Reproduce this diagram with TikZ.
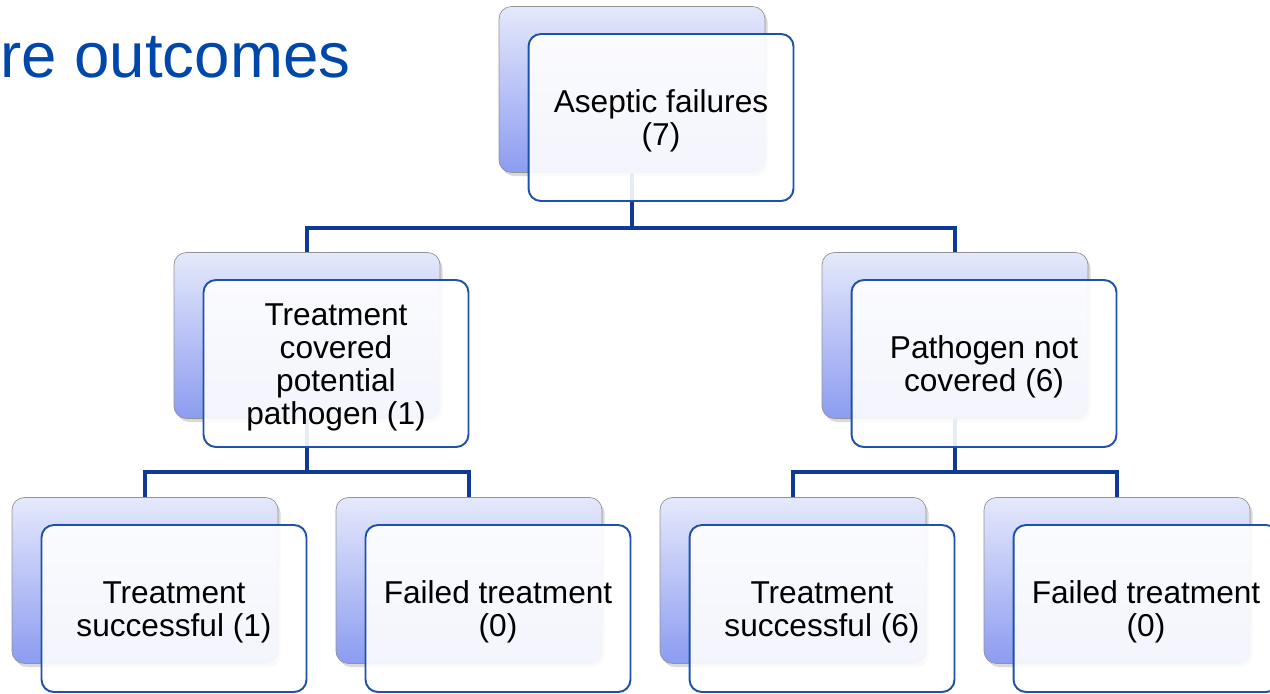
\documentclass[tikz,border=0pt]{standalone}
\usepackage{fontspec}
\setmainfont{Liberation Sans}
\usepackage{xcolor}
\usepackage{tikz}
\usetikzlibrary{calc, positioning, shadows}

\definecolor{titleblue}{RGB}{0,71,171}
\definecolor{edgeblue}{RGB}{30,82,170}
\definecolor{linkblue}{RGB}{14,58,150}
\definecolor{backtop}{RGB}{229,233,251}
\definecolor{backbot}{RGB}{140,156,240}

% extra room above the first line
\newcommand{\topgap}{\rule{0pt}{16.5pt}}

\tikzset{
  backbox/.style={draw=gray!85, rounded corners=7pt, minimum width=5.32cm, minimum height=3.32cm,
    top color=backtop, bottom color=backbot,
    drop shadow={shadow xshift=1.5pt, shadow yshift=-2pt, opacity=0.3}},
  frontbox/.style={draw=edgeblue, line width=1.1pt, rounded corners=7pt, minimum width=5.3cm,
    minimum height=3.34cm, fill=white, fill opacity=0.9, text opacity=1, align=center,
    font=\fontsize{18}{18.7}\selectfont},
  link/.style={draw=linkblue, line width=2.3pt}
}

\begin{document}
\begin{tikzpicture}[x=0.02cm, y=-0.02cm]
    \useasboundingbox (0,0) rectangle (1270,693);

    % Title
    \node[anchor=base west, inner sep=0pt, text=titleblue, font=\fontsize{36.2}{40}\selectfont] (title) at (0,77) {re outcomes};

    % Back boxes
    \node[backbox] (b0) at (632,89.5) {};
    \node[backbox] (b1) at (307,335.5) {};
    \node[backbox] (b2) at (955,335.5) {};
    \node[backbox] (b11) at (145,580.5) {};
    \node[backbox] (b12) at (469,580.5) {};
    \node[backbox] (b21) at (793,580.5) {};
    \node[backbox] (b22) at (1117,580.5) {};

    % Connectors
    \draw[link] (b0.south) -- ++(0,55) -| (b1.north);
    \draw[link] (b0.south) -- ++(0,55) -| (b2.north);
    \draw[link] (b1.south) -- ++(0,53) -| (b11.north);
    \draw[link] (b1.south) -- ++(0,53) -| (b12.north);
    \draw[link] (b2.south) -- ++(0,53) -| (b21.north);
    \draw[link] (b2.south) -- ++(0,53) -| (b22.north);

    % Front boxes with text
    \node[frontbox] (f0) at ($(b0)+(29,28)$) {\topgap Aseptic failures\\(7)};
    \node[frontbox] (f1) at ($(b1)+(29,28)$) {\topgap Treatment\\covered\\potential\\pathogen (1)};
    \node[frontbox] (f2) at ($(b2)+(29,28)$) {\topgap Pathogen not\\covered (6)};
    \node[frontbox] (f11) at ($(b11)+(29,28)$) {\topgap Treatment\\successful (1)};
    \node[frontbox] (f12) at ($(b12)+(29,28)$) {\topgap Failed treatment\\(0)};
    \node[frontbox] (f21) at ($(b21)+(29,28)$) {\topgap Treatment\\successful (6)};
    \node[frontbox] (f22) at ($(b22)+(29,28)$) {\topgap Failed treatment\\(0)};

\end{tikzpicture}
\end{document}
